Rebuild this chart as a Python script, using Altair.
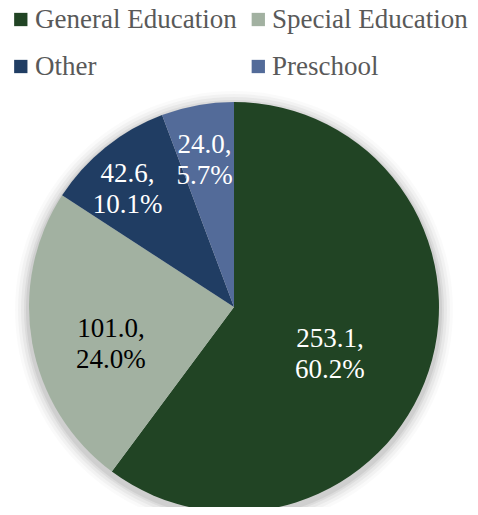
import altair as alt
import pandas as pd

categories = ["General Education", "Special Education", "Other", "Preschool"]
values = [253.1, 101.0, 42.6, 24.0]
percents = ["60.2%", "24.0%", "10.1%", "5.7%"]
colors = ["#214424", "#a2b1a1", "#203d63", "#536b99"]

df = pd.DataFrame({
    "cat": categories,
    "val": values,
    "pct": percents,
    "idx": list(range(len(categories))),
})
df["label"] = [f"{v:.1f},\n{p}" for v, p in zip(values, percents)]

FONT = "Liberation Serif"
W, H = 462, 499
CX, CY = 226, 299
R = 205

label_r_expr = ("datum.cat == 'General Education' ? 101 : "
                "datum.cat == 'Special Education' ? 125 : "
                "datum.cat == 'Other' ? 170 : 165")

color_scale = alt.Scale(domain=categories, range=colors)

halo_data = pd.DataFrame({"a": [0]})
halos = []
for k, op in [(14, 0.02), (11, 0.03), (8, 0.04), (5, 0.05), (3, 0.06)]:
    halos.append(
        alt.Chart(halo_data).mark_circle(color="#000000", opacity=op).encode(
            x=alt.value(CX), y=alt.value(CY + 3), size=alt.value(4 * (R + k) ** 2)
        )
    )

base = alt.Chart(df)

arcs = base.mark_arc(outerRadius=R).encode(
    theta=alt.Theta("val:Q", stack=True),
    order=alt.Order("idx:Q"),
    color=alt.Color("cat:N", scale=color_scale, sort=categories, legend=None),
    x=alt.value(CX), y=alt.value(CY),
)

labels = base.transform_window(
    cum="sum(val)", sort=[alt.SortField("idx")], frame=[None, 0]
).transform_joinaggregate(
    total="sum(val)"
).transform_calculate(
    lr=label_r_expr,
    mid="(datum.cum - datum.val / 2) / datum.total * 2 * PI",
).transform_calculate(
    lx=f"{CX} + datum.lr * sin(datum.mid)",
    ly=f"{CY} - datum.lr * cos(datum.mid)",
).mark_text(
    font=FONT, fontSize=27, lineBreak="\n", lineHeight=31,
    align="center", baseline="middle",
).encode(
    x=alt.X("lx:Q", scale=None),
    y=alt.Y("ly:Q", scale=None),
    text="label:N",
    color=alt.condition(alt.datum.cat == "Special Education",
                        alt.value("#000000"), alt.value("#ffffff")),
)

# legend: 2 columns x 2 rows
leg = base.transform_calculate(
    col="datum.idx % 2",
    row="floor(datum.idx / 2)",
).transform_calculate(
    sx="12.8 + datum.col * 237.5",
    sy="11.5 + datum.row * 47",
    tx="27 + datum.col * 237",
    ty="19.5 + datum.row * 47",
)

leg_sq = leg.mark_square(size=177, opacity=1).encode(
    x=alt.X("sx:Q", scale=None),
    y=alt.Y("sy:Q", scale=None),
    color=alt.Color("cat:N", scale=color_scale, sort=categories, legend=None),
)
leg_tx = leg.mark_text(
    font=FONT, fontSize=27, align="left", baseline="alphabetic", color="#595959"
).encode(
    x=alt.X("tx:Q", scale=None),
    y=alt.Y("ty:Q", scale=None),
    text="cat:N",
)

chart = alt.layer(*halos, arcs, labels, leg_sq, leg_tx).properties(
    width=W, height=H, autosize=alt.AutoSizeParams(type="none"), padding=0
).configure(background="#ffffff").configure_view(stroke=None)

chart.save("out.html", embed_options={"renderer": "svg", "actions": False})
